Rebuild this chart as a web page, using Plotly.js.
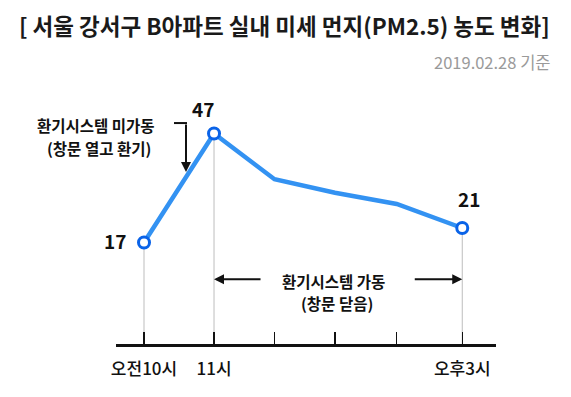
<!DOCTYPE html>
<html>
<head>
<meta charset="utf-8">
<script src="https://cdn.plot.ly/plotly-3.0.1.min.js"></script>
<style>html,body{margin:0;padding:0;background:#fff;}#chart{width:571px;height:397px;}</style>
</head>
<body>
<div id="chart"></div>
<script>
// measurement times (hours of day) and PM2.5 values
const times = [10, 11.1, 12.05, 13, 13.97, 15];
const pm25 = [17, 47, 34.4, 30.7, 27.6, 21];
const valueLabels = ['17', '47', '', '', '', '21'];
const tickLabels = ['오전10시', '11시', '', '', '', '오후3시'];
const titleText = '[ 서울 강서구 B아파트 실내 미세 먼지(PM2.5) 농도 변화]';
const subtitleText = '2019.02.28 기준';
const noteBefore = ['환기시스템 미가동', '(창문 열고 환기)'];
const noteAfter = ['환기시스템 가동', '(창문 닫음)'];

const FONT = '"Noto Sans CJK KR", "Noto Sans", sans-serif';
const yMin = -10.9, yMax = 61.7;

// drop lines from labelled points to the axis
const dropX = [], dropY = [];
valueLabels.forEach((l, i) => {
  if (l !== '') { dropX.push(times[i], times[i], null); dropY.push(pm25[i], yMin, null); }
});

const traces = [
  {x: dropX, y: dropY, mode: 'lines', line: {color: '#bdbdbd', width: 1}, hoverinfo: 'skip', showlegend: false},
  {x: times, y: pm25, mode: 'lines', line: {color: '#3392f2', width: 4.5}, showlegend: false},
  {
    x: times.filter((_, i) => valueLabels[i] !== ''),
    y: pm25.filter((_, i) => valueLabels[i] !== ''),
    mode: 'markers',
    marker: {size: 11, color: '#ffffff', line: {color: '#0a63e8', width: 3}},
    showlegend: false
  }
];

// pixel helpers for annotation placement
const L = 116, R = 496, T = 80, B = 343.7;
const px = v => (v - L) / (R - L);
const py = v => (B - v) / (B - T);

const valueShifts = [[-29, 2], [-11, 25], [0, 0], [0, 0], [0, 0], [7, 30]];
const annotations = [];
valueLabels.forEach((l, i) => {
  if (l === '') return;
  annotations.push({
    x: times[i], y: pm25[i], xref: 'x', yref: 'y', text: l, showarrow: false,
    xanchor: 'center', yanchor: 'middle',
    xshift: valueShifts[i][0], yshift: valueShifts[i][1],
    font: {family: FONT, size: 19, color: '#111', weight: 'bold'}
  });
});

const noteFont = {family: FONT, size: 15.5, color: '#111', weight: 'bold'};
const note = (text, x, y) => ({xref: 'paper', yref: 'paper', x: px(x), y: py(y),
  xanchor: 'center', yanchor: 'middle', text: text, showarrow: false, font: noteFont, borderpad: 0});
annotations.push(
  {xref: 'paper', yref: 'paper', x: px(553), y: py(62), xanchor: 'right', yanchor: 'middle',
   text: subtitleText, showarrow: false, font: {family: FONT, size: 16.5, color: '#9a9a9a'}},
  note(noteBefore[0], 96, 124.5),
  note(noteBefore[1], 99, 148),
  note(noteAfter[0], 333, 280.5),
  note(noteAfter[1], 337, 303),
  // down arrow
  {xref: 'paper', yref: 'paper', x: px(186), y: py(172), ax: 0, ay: -49, text: '', showarrow: true,
   arrowhead: 2, arrowsize: 1, arrowwidth: 2, arrowcolor: '#111'},
  // left arrow to 11시
  {xref: 'x', yref: 'paper', x: times[1], y: py(279), ax: 48, ay: 0, text: '', showarrow: true,
   arrowhead: 2, arrowsize: 1, arrowwidth: 2, arrowcolor: '#111'},
  // right arrow to 오후3시
  {xref: 'x', yref: 'paper', x: times[5], y: py(279), ax: -49, ay: 0, text: '', showarrow: true,
   arrowhead: 2, arrowsize: 1, arrowwidth: 2, arrowcolor: '#111'}
);

const layout = {
  width: 571, height: 397,
  margin: {l: L, r: 571 - R, t: T, b: 397 - B},
  paper_bgcolor: '#fff', plot_bgcolor: '#fff',
  font: {family: FONT},
  title: {text: titleText, xref: 'container', yref: 'container', x: 0.498, y: 1 - 27 / 397,
          xanchor: 'center', yanchor: 'middle',
          font: {family: FONT, size: 22.5, color: '#1a1a1a', weight: 'bold'}},
  xaxis: {
    range: [9.56, 15.53], showgrid: false, zeroline: false,
    showline: true, linewidth: 3, linecolor: '#111',
    ticks: 'inside', ticklen: 12, tickwidth: 1.5, tickcolor: '#111',
    tickvals: times, ticktext: tickLabels, ticklabelstandoff: 8,
    tickfont: {family: FONT, size: 17, color: '#111', weight: 500}
  },
  yaxis: {range: [yMin, yMax], visible: false, showgrid: false, zeroline: false},
  shapes: [
    {type: 'line', xref: 'paper', yref: 'paper', x0: px(174), x1: px(187), y0: py(123), y1: py(123),
     line: {color: '#111', width: 2}}
  ],
  annotations: annotations,
  showlegend: false
};

Plotly.newPlot('chart', traces, layout, {displayModeBar: false, staticPlot: true});
</script>
</body>
</html>
